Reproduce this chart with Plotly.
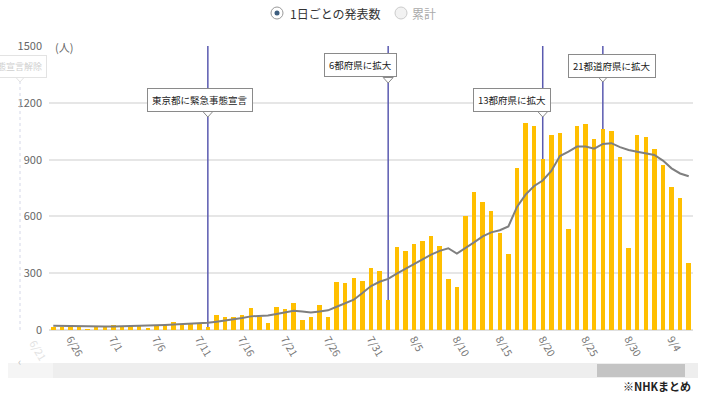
import plotly.graph_objects as go
import pandas as pd

# ---------------- data ----------------
start_date = "2021-06-24"
daily = [18, 18, 27, 16, 3, 18, 19, 27, 19, 21,
         23, 7, 25, 25, 44, 27, 39, 39, 18, 78,
         71, 71, 78, 118, 67, 35, 122, 112, 143, 53,
         67, 131, 67, 255, 246, 273, 260, 326, 310, 159,
         439, 416, 457, 471, 497, 443, 269, 225, 604, 728,
         678, 628, 515, 399, 854, 1093, 1079, 903, 1028, 1042,
         536, 1079, 1090, 1010, 1060, 1051, 914, 431, 1030, 1019,
         955, 872, 758, 698, 353]
avg7 = [22, 21, 20, 19, 18, 17, 18, 19, 20, 21,
        22, 22, 24, 27, 29, 31, 34, 36, 38, 44,
        50, 56, 63, 72, 74, 77, 85, 95, 102, 98,
        92, 98, 104, 123, 140, 160, 195, 232, 255, 270,
        298, 323, 347, 373, 398, 418, 432, 404, 432, 463,
        495, 516, 527, 547, 650, 715, 761, 790, 840, 919,
        942, 969, 969, 958, 983, 987, 966, 951, 942, 934,
        925, 895, 854, 827, 812]
dates = pd.date_range(start_date, periods=len(daily), freq="D")

tick_dates = pd.date_range("2021-06-26", "2021-09-04", freq="5D")
tick_text = [f"{d.month}/{d.day}" for d in tick_dates]
y_ticks = [0, 300, 600, 900, 1200, 1500]

event_dates = ["2021-07-12", "2021-08-02", "2021-08-20", "2021-08-27"]
event_labels = ["東京都に緊急事態宣言", "6都府県に拡大", "13都府県に拡大", "21都道府県に拡大"]

legend_labels = ["1日ごとの発表数", "累計"]
source_note = "※NHKまとめ"
y_unit = "(人)"

# ---------------- layout helpers (pixels) ----------------
W, H = 711, 395
L, R, T, B = 49, 693, 46, 330
def px(x):
    return (x - L) / (R - L)
def py(y):
    return (B - y) / (B - T)

FONT = "Noto Sans CJK JP, Noto Sans, sans-serif"
BAR_COLOR = "#FFBF00"
LINE_COLOR = "#7f7f7f"
EVENT_COLOR = "#5a5ab0"

fig = go.Figure()
fig.add_trace(go.Bar(x=dates, y=daily, marker_color=BAR_COLOR,
                     marker_line_width=0, width=0.52 * 86400000,
                     hoverinfo="x+y"))
fig.add_trace(go.Scatter(x=dates, y=avg7, mode="lines",
                         line=dict(color=LINE_COLOR, width=2)))

shapes = []
annotations = []

# event lines + callouts
box_cx = [200.5, 361, 512, 612]
box_cy = [100, 65.5, 99.5, 66]
box_bottom = [112, 78, 112, 77]
for d, lab, cx, cy, bb in zip(event_dates, event_labels, box_cx, box_cy, box_bottom):
    line_px = L + (pd.Timestamp(d) - pd.Timestamp("2021-06-23 12:00")).total_seconds() / 86400 * (R - L) / 75
    shapes.append(dict(type="line", xref="x", yref="y", x0=d, x1=d, y0=0, y1=1500,
                       line=dict(color=EVENT_COLOR, width=1.5), layer="between"))
    annotations.append(dict(x=d, xref="x", xshift=cx - line_px, y=py(cy), yref="paper",
                            text=lab, showarrow=False, xanchor="center", yanchor="middle",
                            font=dict(family=FONT, size=9.5, color="#222"),
                            bgcolor="white", bordercolor="#8a8a8a", borderwidth=1, borderpad=4))
    shapes.append(dict(type="path", xref="x", xsizemode="pixel", xanchor=d,
                       yref="paper", ysizemode="pixel", yanchor=py(bb),
                       path="M -5,0.5 L 0,-5 L 5,0.5 Z", fillcolor="white",
                       line=dict(color="#8a8a8a", width=1), layer="above"))

# faded left-over label (outside the zoom window)
shapes.append(dict(type="line", xref="paper", yref="paper", x0=px(20), x1=px(20), y0=0, y1=py(82),
                   line=dict(color="#d5d8e8", width=1, dash="dot")))
annotations.append(dict(x=px(47), y=py(66), xref="paper", yref="paper", text="緊急事態宣言解除",
                        showarrow=False, xanchor="right", yanchor="middle",
                        font=dict(family=FONT, size=9, color="#cfcfcf"),
                        bgcolor="white", bordercolor="#e3e3e3", borderwidth=1, borderpad=4))
shapes.append(dict(type="path", xref="paper", yref="paper",
                   path=f"M {px(16)},{py(77.5)} L {px(20)},{py(82)} L {px(24)},{py(77.5)}",
                   line=dict(color="#e3e3e3", width=1)))
annotations.append(dict(x=px(24), y=py(334), xref="paper", yref="paper", text="6/21",
                        showarrow=False, xanchor="left", yanchor="top", textangle=60,
                        font=dict(family=FONT, size=10.5, color="#e2e2e2")))

# unit label
annotations.append(dict(x=px(53), y=py(37), xref="paper", yref="paper", text=y_unit,
                        showarrow=False, font=dict(family=FONT, size=11, color="#666")))

# radio legend
shapes.append(dict(type="circle", xref="paper", yref="paper",
                   x0=px(271), x1=px(283), y0=py(19), y1=py(7),
                   line=dict(color="#9a9a9a", width=1), fillcolor="white"))
shapes.append(dict(type="circle", xref="paper", yref="paper",
                   x0=px(274.5), x1=px(279.5), y0=py(15.5), y1=py(10.5),
                   line=dict(width=0), fillcolor="#3e5f80"))
shapes.append(dict(type="circle", xref="paper", yref="paper",
                   x0=px(395), x1=px(407), y0=py(19), y1=py(7),
                   line=dict(color="#cccccc", width=1), fillcolor="#f2f2f2"))
annotations.append(dict(x=px(288), y=py(13.5), xref="paper", yref="paper", text=legend_labels[0],
                        showarrow=False, xanchor="left", yanchor="middle",
                        font=dict(family=FONT, size=12, color="#333")))
annotations.append(dict(x=px(410), y=py(13.5), xref="paper", yref="paper", text=legend_labels[1],
                        showarrow=False, xanchor="left", yanchor="middle",
                        font=dict(family=FONT, size=12, color="#aaa")))

# slider imitation
shapes.append(dict(type="rect", xref="paper", yref="paper", x0=px(8), x1=px(698),
                   y0=py(378), y1=py(363), fillcolor="#eeeeee", line=dict(width=0)))
shapes.append(dict(type="rect", xref="paper", yref="paper", x0=px(8), x1=px(53),
                   y0=py(378), y1=py(363), fillcolor="#f5f5f5", line=dict(width=0)))
shapes.append(dict(type="rect", xref="paper", yref="paper", x0=px(597), x1=px(685),
                   y0=py(377), y1=py(364), fillcolor="#c4c4c4", line=dict(width=0)))
annotations.append(dict(x=px(16), y=py(370.5), xref="paper", yref="paper", text="‹",
                        showarrow=False, font=dict(family=FONT, size=11, color="#c0c0c0")))

# source note
annotations.append(dict(x=px(693), y=py(386), xref="paper", yref="paper", text="<b>" + source_note + "</b>",
                        showarrow=False, xanchor="right", yanchor="middle",
                        font=dict(family=FONT, size=11, color="#222")))

fig.update_layout(
    width=W, height=H,
    margin=dict(l=L, r=W - R, t=T, b=H - B),
    paper_bgcolor="white", plot_bgcolor="white",
    showlegend=False, bargap=0,
    font=dict(family=FONT, color="#666"),
    shapes=shapes, annotations=annotations,
)
fig.update_xaxes(range=["2021-06-23 12:00", "2021-09-06 12:00"], tickvals=tick_dates,
                 ticktext=tick_text, tickangle=60, showgrid=False, zeroline=False,
                 showline=False, ticks="", tickfont=dict(family=FONT, size=10.5, color="#777"))
fig.update_yaxes(range=[0, 1500.5], tickvals=y_ticks, showgrid=True, gridcolor="#e6e6e6",
                 gridwidth=1.5, zeroline=True, zerolinecolor="#e0e0e0", zerolinewidth=1.5,
                 ticks="", ticklabelstandoff=6, tickfont=dict(family=FONT, size=11, color="#666"))

fig.write_html("out.html", config={"displayModeBar": False},
               post_script="document.body.style.margin='0px';document.body.style.padding='0px';")
